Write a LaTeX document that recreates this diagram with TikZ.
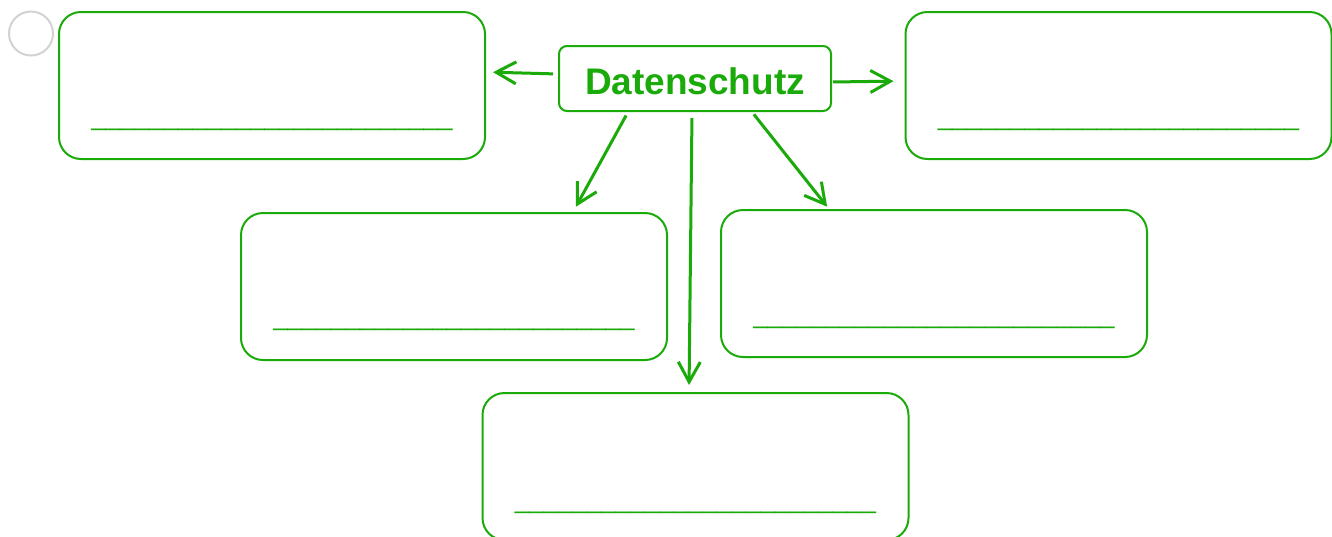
\documentclass[tikz,border=0pt]{standalone}
\usepackage{fontspec}
\setmainfont{Liberation Sans}
\usepackage{xcolor}
\usepackage{tikz}
\usetikzlibrary{positioning,arrows.meta}

\definecolor{dsgreen}{RGB}{26,170,10}
\newcommand{\blankline}{\_\_\_\_\_\_\_\_\_\_\_\_\_\_\_\_\_\_\_\_\_\_\_\_\_}

\begin{document}
\begin{tikzpicture}[
    x=1pt, y=1pt,
    box/.style={rectangle, draw=dsgreen, line width=2pt, rounded corners=22pt, minimum width=426pt, minimum height=147pt, inner sep=0pt},
    topic/.style={rectangle, draw=dsgreen, line width=2pt, rounded corners=8pt, minimum width=272pt, minimum height=65pt, text height=31pt, text depth=0pt, text=dsgreen, font=\fontsize{37}{40}\selectfont\bfseries},
    blank/.style={anchor=base, inner sep=0pt, text=dsgreen, font=\fontsize{26}{28}\selectfont},
    arrow/.style={-{Straight Barb[length=20pt,width=22pt]}, draw=dsgreen, line width=3pt}
]
\useasboundingbox (0,0) rectangle (1332,-536);
% Marker
\draw[gray!35, line width=2pt] (31,-33.5) circle (22);
% Topic
\node[topic] (ds) at (695,-78.5) {Datenschutz};
% Boxes
\node[box] (tl) at (272,-85.5) {};
\node[box] (tr) at (1118.5,-85.5) {};
\node[box] (ml) at (454,-286.5) {};
\node[box] (mr) at (934,-283.5) {};
\node[box] (bot) at (695.5,-466.5) {};
% Blank lines
\node[blank] (tlline) at ([yshift=-40pt]tl.center) {\blankline};
\node[blank] (trline) at ([yshift=-40pt]tr.center) {\blankline};
\node[blank] (mlline) at ([yshift=-39pt]ml.center) {\blankline};
\node[blank] (mrline) at ([yshift=-40pt]mr.center) {\blankline};
\node[blank] (botline) at ([yshift=-42pt]bot.center) {\blankline};
% Arrows
\draw[arrow, shorten <=5pt, shorten >=7pt] ([yshift=4.5pt]ds.west) -- ([yshift=13.5pt]tl.east);
\draw[arrow, shorten <=1pt, shorten >=11pt] ([yshift=-3.5pt]ds.east) -- ([yshift=4.5pt]tr.west);
\draw[arrow, shorten <=4pt, shorten >=6pt] ([xshift=-67pt]ds.south) -- ([xshift=119pt]ml.north);
\draw[arrow, shorten <=6pt, shorten >=7pt] ([xshift=-3pt]ds.south) -- ([xshift=-6.5pt]bot.north);
\draw[arrow, shorten <=3pt, shorten >=3pt] ([xshift=57pt]ds.south) -- ([xshift=-105pt]mr.north);
\end{tikzpicture}
\end{document}
